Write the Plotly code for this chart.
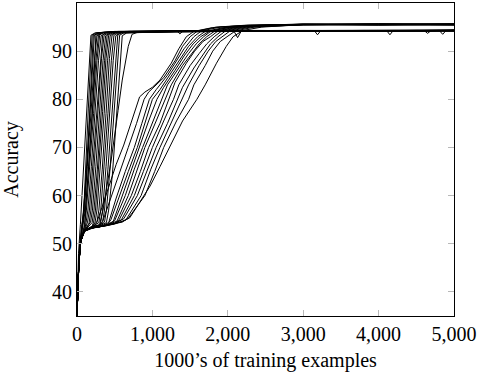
import plotly.graph_objects as go

# ---- fast-learning runs (x in 1000's of examples, y = accuracy %) ----
FAST_X = [
    [0, 20, 45, 100, 150, 185, 240, 450, 1200, 2400, 3600, 5000],
    [0, 25, 50, 90, 150, 200, 255, 500, 1300, 2600, 3800, 5000],
    [0, 25, 50, 70, 100, 135, 180, 215, 270, 520, 1400, 2700, 3900, 5000],
    [0, 25, 50, 60, 85, 130, 180, 230, 285, 550, 1500, 2800, 4000, 5000],
    [0, 25, 50, 100, 115, 160, 210, 250, 305, 600, 1600, 2900, 4110, 4150, 4190, 5000],
    [0, 25, 50, 65, 90, 135, 185, 230, 265, 320, 650, 1700, 3000, 4200, 5000],
    [0, 25, 50, 85, 110, 155, 205, 250, 285, 340, 700, 1800, 3100, 4300, 5000],
    [0, 25, 50, 100, 125, 170, 220, 265, 300, 355, 700, 1900, 2080, 2130, 2180, 3200, 4400, 5000],
    [0, 25, 50, 100, 120, 145, 190, 240, 285, 320, 380, 750, 2000, 3300, 4500, 5000],
    [0, 25, 50, 100, 140, 165, 210, 260, 305, 340, 395, 800, 2100, 3400, 4600, 5000],
    [0, 25, 50, 100, 160, 185, 230, 280, 325, 360, 415, 850, 2200, 3500, 4700, 5000],
    [0, 25, 50, 100, 180, 205, 250, 300, 345, 380, 435, 900, 2300, 3150, 3190, 3230, 4800, 5000],
    [0, 25, 50, 100, 200, 225, 270, 320, 365, 400, 455, 950, 2400, 3600, 5000],
    [0, 25, 50, 100, 200, 220, 245, 290, 340, 385, 420, 475, 1000, 2500, 3700, 5000],
    [0, 25, 50, 100, 200, 240, 265, 310, 360, 405, 440, 495, 1050, 2600, 3800, 4610, 4650, 4690, 5000],
    [0, 25, 50, 100, 200, 265, 290, 335, 385, 430, 465, 520, 1100, 2700, 3900, 5000],
    [0, 25, 50, 100, 200, 290, 315, 360, 410, 455, 490, 545, 1150, 2800, 4000, 5000],
    [0, 25, 50, 100, 200, 300, 315, 340, 385, 435, 480, 515, 570, 1200, 2900, 4100, 4810, 4850, 4890, 5000],
    [0, 25, 50, 100, 200, 300, 340, 365, 410, 460, 505, 540, 595, 1250, 3000, 4200, 5000],
    [0, 25, 50, 100, 200, 300, 365, 390, 435, 485, 530, 565, 620, 1300, 3100, 4300, 5000],
    [0, 25, 50, 100, 200, 300, 390, 420, 470, 525, 570, 600, 660, 1350, 3200, 4400, 5000],
    [0, 25, 50, 100, 200, 300, 345, 450, 545, 600, 680, 730, 800, 1330, 1365, 1400, 2000, 3400, 4600, 5000],
]
FAST_Y = [
    [35, 48, 54, 70, 84, 93.3, 93.8, 94.0, 94.2, 94.3, 94.2, 94.3],
    [35, 47, 52, 57, 78, 93.3, 93.8, 94.1, 94.2, 94.2, 94.3, 94.3],
    [35, 46.5, 51, 53.5, 57, 66, 80, 93.2, 93.7, 94.0, 94.2, 94.3, 94.2, 94.2],
    [35, 46, 50.5, 53, 56, 66, 79, 93.3, 93.8, 94.1, 94.2, 94.2, 94.3, 94.3],
    [35, 46.5, 51, 53.4, 57, 67, 79, 93.3, 93.8, 94.0, 94.2, 94.3, 94.2, 93.4, 94.2, 94.3],
    [35, 46, 50.5, 53, 57, 66, 77, 88, 93.2, 93.8, 94.1, 94.2, 94.2, 94.3, 94.2],
    [35, 46.5, 51, 54.3, 57, 66, 77, 88, 93.3, 93.9, 94.1, 94.2, 94.3, 94.2, 94.3],
    [35, 46, 50.5, 54, 57, 66, 77, 88, 93.3, 93.9, 94.1, 94.2, 94.2, 92.8, 94.2, 94.3, 94.2, 94.3],
    [35, 46.5, 51, 52.8, 54.4, 57, 66, 77, 88, 93.2, 93.8, 94.1, 94.2, 94.2, 94.3, 94.2],
    [35, 46, 50.5, 52.7, 54.5, 57, 66.5, 77, 88, 93.3, 93.9, 94.0, 94.2, 94.3, 94.3, 94.4],
    [35, 46.5, 51, 52.6, 54.3, 57, 66, 78, 88.5, 93.3, 93.8, 94.1, 94.3, 94.2, 94.2, 94.3],
    [35, 46, 50.5, 52.8, 54.5, 57, 66, 77, 88, 93.2, 93.8, 94.0, 94.2, 94.2, 93.4, 94.2, 94.3, 94.2],
    [35, 46.5, 51, 52.7, 54.4, 57, 65.5, 77, 88, 93.3, 93.9, 94.1, 94.2, 94.3, 94.3],
    [35, 46, 50.5, 52.8, 53.6, 54.5, 57, 66, 77.5, 88.5, 93.3, 93.8, 94.0, 94.2, 94.2, 94.4],
    [35, 46.5, 51, 52.6, 53.4, 54.5, 57, 66, 77, 88, 93.2, 93.8, 94.1, 94.2, 94.3, 94.2, 93.7, 94.2, 94.3],
    [35, 46, 50.5, 52.8, 53.6, 54.6, 57, 65.5, 77, 88.5, 93.3, 93.9, 94.1, 94.2, 94.3, 94.2],
    [35, 46.5, 51, 52.7, 53.5, 54.4, 57, 66, 77, 88, 93.3, 93.8, 94.0, 94.2, 94.3, 94.3],
    [35, 46, 50.5, 52.8, 53.4, 53.8, 54.5, 57, 66, 77, 88, 93.2, 93.8, 94.1, 94.2, 94.2, 94.2, 93.5, 94.2, 94.3],
    [35, 46.5, 51, 52.6, 53.6, 53.9, 54.6, 57, 65.5, 77, 87.5, 93.3, 93.9, 94.1, 94.3, 94.2, 94.3],
    [35, 46, 50.5, 52.8, 53.5, 53.8, 54.5, 57, 65, 76.5, 87, 93.3, 93.8, 94.0, 94.2, 94.3, 94.2],
    [35, 46.5, 51, 52.7, 53.4, 53.7, 54.4, 57, 64.5, 76, 87.5, 93.2, 93.8, 94.1, 94.2, 94.2, 94.3],
    [35, 46, 50.5, 52.7, 53.4, 54, 57, 67, 77.7, 84, 91, 93.5, 93.9, 94.1, 93.6, 94.1, 94.2, 94.2, 94.3, 94.3],
]

# ---- slow-learning runs (long plateau near 53 %) ----
SLOW_X = [
    [0, 25, 50, 100, 200, 260, 330, 420, 520, 620, 720, 830, 900, 1000, 1100, 1250, 1350, 1450, 1550, 1800, 2200, 3000, 4000, 5000],
    [0, 25, 50, 100, 200, 300, 340, 440, 560, 680, 790, 890, 950, 1050, 1150, 1300, 1400, 1500, 1600, 1850, 2250, 3000, 4000, 5000],
    [0, 25, 50, 100, 200, 300, 420, 520, 640, 760, 860, 960, 1050, 1200, 1300, 1420, 1550, 1650, 1900, 2300, 3000, 4000, 5000],
    [0, 25, 50, 100, 200, 300, 400, 450, 560, 680, 800, 900, 1000, 1100, 1250, 1380, 1480, 1600, 1700, 1950, 2350, 3000, 4000, 5000],
    [0, 25, 50, 100, 200, 300, 400, 480, 600, 720, 830, 950, 1060, 1150, 1300, 1420, 1540, 1640, 1750, 2000, 2400, 3000, 4000, 5000],
    [0, 25, 50, 100, 200, 300, 400, 500, 640, 760, 870, 1000, 1120, 1200, 1350, 1480, 1580, 1680, 1780, 2050, 2450, 3000, 4000, 5000],
    [0, 25, 50, 100, 200, 300, 400, 530, 680, 800, 900, 1050, 1170, 1250, 1400, 1520, 1620, 1720, 1820, 2100, 2500, 3000, 4000, 5000],
    [0, 25, 50, 100, 200, 300, 400, 500, 560, 720, 840, 950, 1100, 1220, 1300, 1450, 1560, 1670, 1770, 1870, 2150, 2550, 3000, 4000, 5000],
    [0, 25, 50, 100, 200, 300, 400, 500, 590, 760, 880, 1000, 1150, 1280, 1350, 1500, 1620, 1720, 1820, 1920, 2200, 2600, 3000, 4000, 5000],
    [0, 25, 50, 100, 200, 300, 400, 500, 620, 800, 920, 1050, 1200, 1340, 1400, 1550, 1660, 1770, 1870, 1970, 2250, 2650, 3000, 4000, 5000],
    [0, 25, 50, 100, 200, 300, 400, 500, 650, 850, 980, 1100, 1250, 1400, 1480, 1620, 1740, 1840, 1930, 2030, 2300, 2700, 3000, 4000, 5000],
    [0, 25, 50, 100, 200, 300, 400, 500, 600, 680, 900, 1030, 1150, 1320, 1480, 1550, 1700, 1800, 1900, 1990, 2100, 2350, 2750, 3000, 4000, 5000],
    [0, 25, 50, 100, 200, 300, 400, 500, 600, 700, 970, 1100, 1230, 1400, 1590, 1700, 1850, 1980, 2070, 2200, 2450, 2850, 3000, 4000, 5000],
]
SLOW_Y = [
    [35, 46, 50.5, 52.8, 53.3, 54.3, 57.5, 62, 66.5, 70.5, 75.5, 80.5, 81.5, 82.5, 84, 87.5, 90.5, 93, 94.1, 94.9, 95.3, 95.5, 95.4, 95.5],
    [35, 46.5, 51, 52.7, 53.4, 53.7, 54.6, 59, 64.5, 70, 75, 80, 81.5, 83, 84.5, 88, 91, 93, 94.2, 95, 95.4, 95.6, 95.5, 95.6],
    [35, 46, 50.5, 52.8, 53.3, 53.5, 54.4, 59.5, 65, 70, 75, 80, 82, 85, 87.5, 90.5, 93, 94.2, 95, 95.4, 95.6, 95.7, 95.6],
    [35, 46.5, 51, 52.6, 53.2, 53.6, 53.9, 55, 60, 65, 70, 75, 80, 82, 85.5, 88.5, 91, 93, 94.1, 94.9, 95.3, 95.5, 95.5, 95.4],
    [35, 46, 50.5, 52.7, 53.3, 53.5, 53.8, 54.6, 60, 65, 70, 75.5, 80, 82.5, 86, 89, 91.5, 93, 94.1, 94.9, 95.3, 95.6, 95.5, 95.6],
    [35, 46.5, 51, 52.8, 53.4, 53.6, 54, 54.8, 60, 65.5, 70, 75, 80, 83, 86.5, 89.5, 91.5, 93, 94.2, 95, 95.4, 95.5, 95.6, 95.5],
    [35, 46, 50.5, 52.6, 53.3, 53.5, 53.9, 54.7, 60, 65.5, 70, 75.5, 80, 83, 87, 89.5, 91.5, 93, 94.1, 95, 95.3, 95.5, 95.6, 95.5],
    [35, 46.5, 51, 52.8, 53.3, 53.6, 53.8, 54.2, 55, 60, 65, 70, 75, 80, 83.5, 87.5, 90, 92, 93, 94.2, 95, 95.4, 95.6, 95.5, 95.7],
    [35, 46, 50.5, 52.7, 53.3, 53.5, 53.9, 54.3, 55, 60, 65, 70, 75.5, 80, 83, 87, 89.5, 91.5, 93, 94.2, 95, 95.4, 95.5, 95.6, 95.5],
    [35, 46.5, 51, 52.8, 53.4, 53.6, 53.8, 54.2, 55.2, 60, 65, 70, 75, 80, 82.5, 86.5, 89, 91.5, 93, 94.2, 95, 95.4, 95.6, 95.6, 95.6],
    [35, 46, 50.5, 52.7, 53.3, 53.5, 53.8, 54.1, 55, 60, 65.5, 70, 75, 80, 83, 87, 90, 92, 93, 94.2, 95, 95.3, 95.5, 95.6, 95.5],
    [35, 46.5, 51, 52.8, 53.3, 53.6, 53.9, 54.3, 54.5, 55.3, 60, 65, 70, 75.5, 80, 83, 87, 90, 92, 93, 94.2, 95, 95.4, 95.5, 95.5, 95.6],
    [35, 46, 50.5, 52.6, 53.3, 53.5, 53.8, 54.2, 54.6, 55.4, 62, 66, 70, 75.5, 80, 83, 87.5, 91, 93, 94.3, 95, 95.4, 95.5, 95.6, 95.6],
]

X_TICKS = [0, 1000, 2000, 3000, 4000, 5000]
Y_TICKS = [40, 50, 60, 70, 80, 90]

FONT = "Liberation Serif, Times New Roman, serif"

fig = go.Figure()
for xs, ys in list(zip(FAST_X, FAST_Y)) + list(zip(SLOW_X, SLOW_Y)):
    fig.add_trace(go.Scatter(x=xs, y=ys, mode="lines",
                             line=dict(color="black", width=1),
                             showlegend=False, hoverinfo="skip"))

axis_common = dict(
    showline=True, linecolor="black", linewidth=1.2, mirror="ticks",
    ticks="inside", ticklen=6, tickcolor="#b8b8b8", tickwidth=1,
    showgrid=False, zeroline=False, automargin=False,
    tickfont=dict(family=FONT, size=20, color="black"),
)

fig.update_layout(
    width=478, height=372,
    margin=dict(l=77, r=24, t=3, b=56),
    paper_bgcolor="white", plot_bgcolor="white",
    font=dict(family=FONT, size=20, color="black"),
    xaxis=dict(range=[0, 5000], tickvals=X_TICKS, tickformat=",d",
               title=dict(text="1000’s of training examples", standoff=8,
                          font=dict(family=FONT, size=20)),
               **axis_common),
    yaxis=dict(range=[35, 100], tickvals=Y_TICKS,
               title=dict(text="Accuracy", standoff=31,
                          font=dict(family=FONT, size=20)),
               **axis_common),
)

fig.write_html("out.html",
               config={"displayModeBar": False},
               post_script="document.body.style.margin='0';document.body.style.overflow='hidden';")
